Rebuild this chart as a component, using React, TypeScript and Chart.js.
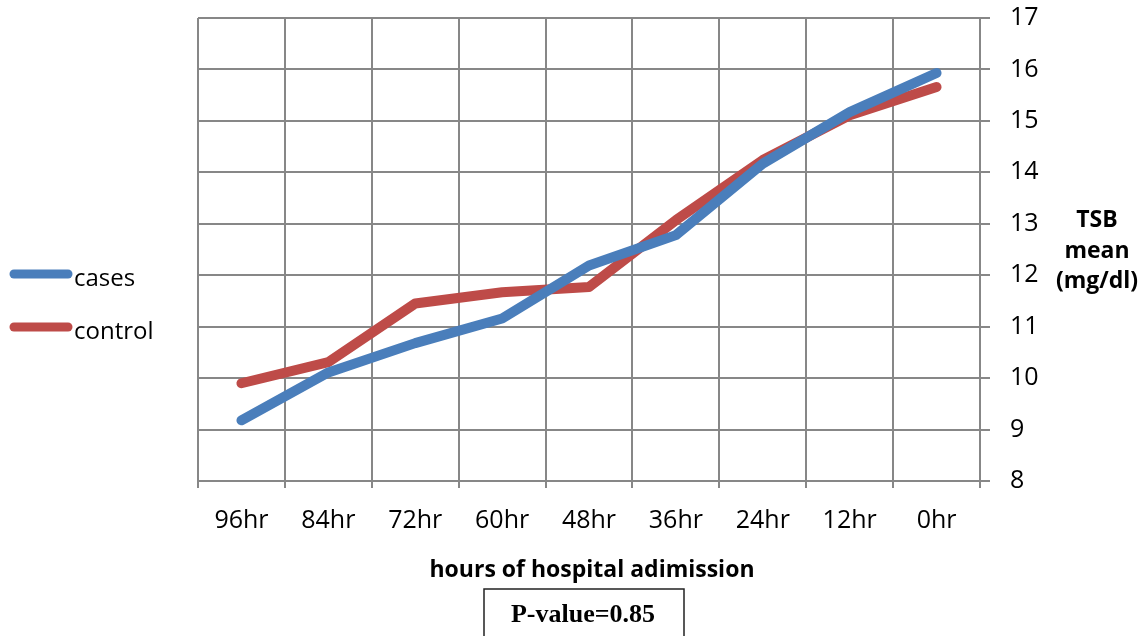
import React, { useEffect, useRef } from "react";
import { Chart, registerables } from "chart.js";

Chart.register(...registerables);

const categories = ["96hr", "84hr", "72hr", "60hr", "48hr", "36hr", "24hr", "12hr", "0hr"];
const casesValues = [9.18, 10.11, 10.68, 11.16, 12.19, 12.78, 14.17, 15.17, 15.93];
const controlValues = [9.9, 10.31, 11.45, 11.67, 11.77, 13.07, 14.24, 15.11, 15.66];
const yTitleLines = ["TSB", "mean", "(mg/dl)"];
const xTitle = "hours of hospital adimission";
const pValueText = "P-value=0.85";
const legendLabels = ["cases", "control"];

const BLUE = "#4A7EBB";
const RED = "#BE4B48";
const GRID = "#878787";
const FONT = "'Open Sans', 'DejaVu Sans', sans-serif";

const overlayPlugin = {
  id: "overlay",
  afterDraw(chart: any) {
    const ctx = chart.ctx as CanvasRenderingContext2D;
    ctx.save();
    // legend
    const legendColors = [BLUE, RED];
    const legendY = [274, 327];
    legendLabels.forEach((lab, i) => {
      ctx.strokeStyle = legendColors[i];
      ctx.lineWidth = 9;
      ctx.lineCap = "round";
      ctx.beginPath();
      ctx.moveTo(14, legendY[i]);
      ctx.lineTo(68, legendY[i]);
      ctx.stroke();
      ctx.fillStyle = "#000";
      ctx.font = `24px ${FONT}`;
      ctx.textAlign = "left";
      ctx.textBaseline = "alphabetic";
      ctx.fillText(lab, 74, legendY[i] + 12);
    });
    // y title
    ctx.font = `bold 23px ${FONT}`;
    ctx.textAlign = "center";
    const yBase = [227, 258, 288];
    yTitleLines.forEach((t, i) => ctx.fillText(t, 1097, yBase[i]));
    // x title
    ctx.font = `bold 23px ${FONT}`;
    ctx.fillText(xTitle, 592, 577);
    // p-value box
    ctx.strokeStyle = "#222";
    ctx.lineWidth = 1.5;
    ctx.beginPath();
    ctx.moveTo(484, 640);
    ctx.lineTo(484, 589);
    ctx.lineTo(684, 589);
    ctx.lineTo(684, 640);
    ctx.stroke();
    ctx.font = `bold 26px 'Liberation Serif', 'Times New Roman', serif`;
    ctx.fillText(pValueText, 583, 622);
    ctx.restore();
  },
};

export default function App() {
  const ref = useRef<HTMLCanvasElement | null>(null);
  useEffect(() => {
    if (!ref.current) return;
    const chart = new Chart(ref.current, {
      type: "line",
      data: {
        labels: categories,
        datasets: [
          {
            label: legendLabels[0],
            data: casesValues,
            borderColor: BLUE,
            backgroundColor: BLUE,
            borderWidth: 10,
            pointRadius: 0,
            borderCapStyle: "round",
            borderJoinStyle: "round",
            tension: 0,
          },
          {
            label: legendLabels[1],
            data: controlValues,
            borderColor: RED,
            backgroundColor: RED,
            borderWidth: 10,
            pointRadius: 0,
            borderCapStyle: "round",
            borderJoinStyle: "round",
            tension: 0,
          },
        ],
      },
      options: {
        responsive: false,
        animation: false,
        layout: { padding: { left: 198, top: 18, right: 0, bottom: 0 } },
        plugins: { legend: { display: false }, tooltip: { enabled: false } },
        scales: {
          x: {
            type: "category",
            offset: true,
            grid: { offset: true, color: GRID, lineWidth: 2, tickLength: 7 },
            border: { display: true, color: GRID, width: 2 },
            ticks: { color: "#000", font: { family: FONT, size: 25 }, padding: 18, maxRotation: 0 },
            afterFit: (s: any) => { s.height = 155; s.paddingLeft = 0; s.paddingRight = 0; },
          },
          y: {
            position: "right",
            min: 8,
            max: 17,
            grid: { color: GRID, lineWidth: 2, tickLength: 10 },
            border: { display: true, color: GRID, width: 2 },
            ticks: { stepSize: 1, color: "#000", font: { family: FONT, size: 25 }, padding: 20 },
            afterFit: (s: any) => { s.width = 163; s.paddingTop = 0; s.paddingBottom = 0; },
          },
        },
      },
      plugins: [overlayPlugin],
    });
    return () => chart.destroy();
  }, []);
  return (
    <div style={{ position: "fixed", left: 0, top: 0, width: 1143, height: 636, background: "#fff" }}>
      <canvas ref={ref} width={1143} height={636} style={{ display: "block" }} />
    </div>
  );
}
